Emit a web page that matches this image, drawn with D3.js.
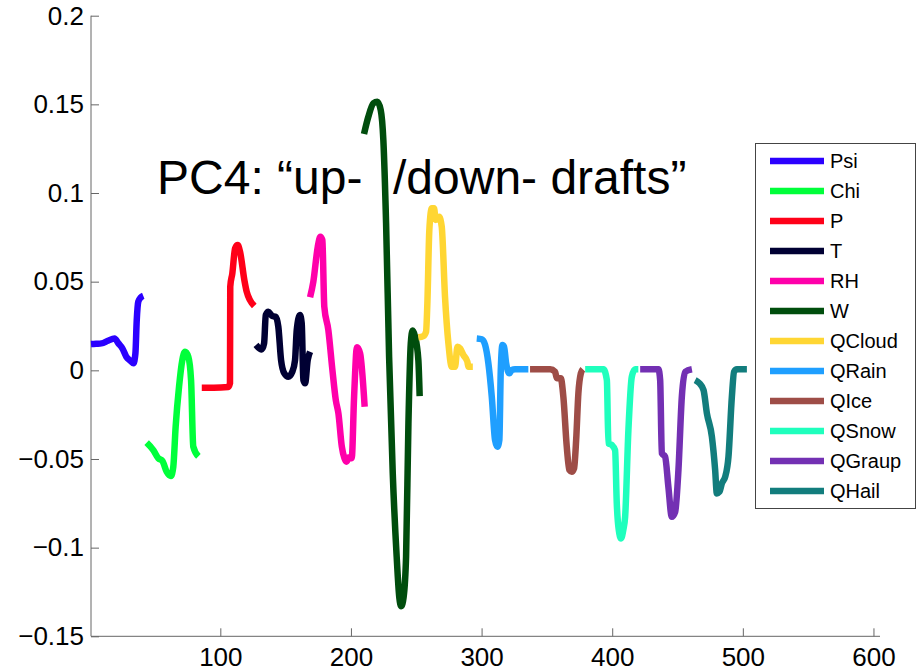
<!DOCTYPE html>
<html><head><meta charset="utf-8">
<script src="https://cdn.jsdelivr.net/npm/d3@7"></script>
<style>html,body{margin:0;padding:0;background:#fff}svg{display:block}</style>
</head><body>
<svg id="c" width="918" height="671"></svg>
<script>
const seriesNames = ["Psi","Chi","P","T","RH","W","QCloud","QRain","QIce","QSnow","QGraup","QHail"];
const seriesColors = ["#2b00ff","#00ff3a","#ff0019","#000033","#ff00aa","#004d0d","#ffd633","#1f9fff","#9e4d47","#1fffbd","#7330b3","#127d7d"];
const xTicks = [100,200,300,400,500,600];
const yTicks = [-0.15,-0.1,-0.05,0,0.05,0.1,0.15,0.2];
const yTickLabels = ["\u22120.15","\u22120.1","\u22120.05","0","0.05","0.1","0.15","0.2"];
const titleLeft = "PC4: \u201cup-";
const titleRight = "/down- drafts\u201d";

const psi = [[1,0.0148],[5,0.015],[9,0.0152],[14,0.0167],[19,0.018],[22,0.0152],[25,0.0124],[28,0.0077],[31,0.0055],[33.5,0.004],[35,0.0096],[36,0.028],[37.2,0.0387],[39,0.041],[41,0.042]];
const chi = [[43.6,-0.0408],[48.7,-0.045],[52.5,-0.0496],[55.6,-0.051],[58.9,-0.0572],[62.2,-0.0596],[64,-0.0544],[65.8,-0.0318],[68.4,-0.0092],[70.9,0.0058],[73,0.0105],[75.5,0.0077],[77.6,-0.0055],[79.3,-0.043],[83.2,-0.0485]];
const p = [[85.8,-0.0098],[95,-0.0098],[106,-0.0094],[107.4,-0.0073],[107.6,0.0472],[109.2,0.0547],[111.3,0.0688],[113.3,0.0707],[115.1,0.0669],[118.4,0.0509],[120.2,0.0443],[122.7,0.0396],[126,0.0363]];
const t = [[127.3,0.0143],[131.7,0.0118],[133.5,0.0152],[134.8,0.0312],[136.8,0.033],[139.8,0.0306],[142.4,0.0302],[144.4,0.0246],[146.5,0.0058],[149,-0.0017],[152.1,-0.0036],[155.1,-0.0008],[157.2,0.0058],[158.5,0.0227],[161,0.0312],[162.3,0.0265],[163.6,-0.0055],[164.9,-0.0073],[166.9,0.0058],[168.7,0.0105]];
const rh = [[168.7,0.0412],[171.2,0.05],[174.6,0.0697],[176.6,0.0754],[178.1,0.0735],[179.6,0.0359],[182.7,0.0227],[185.8,0.0002],[188.4,-0.0168],[190.4,-0.0243],[193,-0.043],[195,-0.0496],[196.6,-0.0515],[198.5,-0.049],[200.6,-0.0496],[202.4,-0.0149],[204.6,0.013],[207,0.0096],[210.5,-0.0205]];
const w = [[210,0.1333],[213.3,0.143],[217.2,0.1506],[220.2,0.1515],[222.8,0.1468],[224.8,0.1299],[226.9,0.0829],[229.2,0.0077],[232,-0.0581],[235,-0.1051],[237,-0.128],[238.5,-0.133],[240.3,-0.128],[242.2,-0.1051],[244,-0.0299],[245.8,0.0152],[247.2,0.0225],[249.1,0.019],[251.6,0.0058],[252.6,-0.0145]];
const qcloud = [[251.6,0.0186],[255.4,0.0193],[257.5,0.0218],[258.5,0.0378],[260,0.0791],[261.9,0.0914],[263.6,0.0914],[264.9,0.0848],[267.5,0.0866],[269.5,0.081],[272,0.0415],[274.6,0.0152],[277.2,0.002],[279.7,0.002],[281.5,0.0133],[283.5,0.0124],[286.1,0.0086],[289.1,0.0049],[289.9,0.002],[293.3,0.002]];
const qrain = [[296.3,0.018],[300.2,0.0175],[302.7,0.0143],[305.2,0.004],[307.8,-0.0149],[310.3,-0.0393],[312.1,-0.0431],[313.6,-0.0393],[314.7,0.0002],[316,0.0143],[317.2,0.0133],[318.8,0.004],[321.3,-0.0017],[323.1,0.0002],[325.6,0.0006],[335.8,0.0006]];
const qice = [[337.1,0.0006],[352.5,0.0006],[356.3,-0.0008],[357.6,-0.0045],[360.6,-0.0045],[362.6,-0.0149],[365.2,-0.043],[367.2,-0.0562],[369,-0.0572],[370.8,-0.0553],[372.4,-0.0393],[374.1,-0.013],[376,-0.0017],[377.5,0.0006]];
const qsnow = [[379.3,0.0006],[393.3,0.0006],[395.9,-0.0055],[397.1,-0.0412],[399.7,-0.0421],[402.2,-0.045],[403.5,-0.075],[405,-0.09],[406.8,-0.0948],[408.5,-0.09],[409.9,-0.0826],[412.4,-0.0337],[415,-0.0036],[417.5,0.0006],[420,0.0006]];
const qgraup = [[421.4,0.0006],[435.4,0.0006],[436.7,-0.0055],[438,-0.0468],[440.5,-0.0487],[443,-0.0657],[445.6,-0.0826],[448.2,-0.0798],[450.7,-0.0562],[453.3,-0.0149],[455.9,-0.0008],[461,0.0006]];
const qhail = [[463.5,-0.0055],[466.8,-0.0073],[469.9,-0.0111],[472.5,-0.0243],[476.3,-0.0374],[478.8,-0.0562],[480.1,-0.0694],[482.1,-0.0685],[484,-0.0637],[486.5,-0.06],[489,-0.0487],[491.6,-0.0149],[493.3,-0.0008],[495.4,0.0006],[503.1,0.0006]];

const seriesData = [psi,chi,p,t,rh,w,qcloud,qrain,qice,qsnow,qgraup,qhail];

const svg = d3.select("#c");
const font = "'Liberation Sans', Arial, Helvetica, sans-serif";
const x = d3.scaleLinear().domain([1,605]).range([91,880]);
const y = d3.scaleLinear().domain([-0.15,0.2]).range([636.3,15.7]);

// axes
const axisColor = "#666";
const gx = svg.append("g").attr("transform",`translate(0,${y(-0.15)})`)
  .call(d3.axisBottom(x).tickValues(xTicks).tickSize(-8).tickPadding(14).tickFormat(d3.format("d")));
gx.select(".domain").attr("d",`M${x(1)},0H${x(605)}`).attr("stroke",axisColor);
gx.selectAll(".tick line").attr("stroke",axisColor);
gx.selectAll(".tick text").attr("font-family",font).attr("font-size",26).attr("fill","#000").attr("dy","0.72em").attr("y",11);

const gy = svg.append("g").attr("transform",`translate(${x(1)},0)`)
  .call(d3.axisLeft(y).tickValues(yTicks).tickSize(-8).tickPadding(8).tickFormat((d,i)=>yTickLabels[i]));
gy.select(".domain").attr("d",`M0,${y(-0.15)}V${y(0.2)}`).attr("stroke",axisColor);
gy.selectAll(".tick line").attr("stroke",axisColor);
gy.selectAll(".tick text").attr("font-family",font).attr("font-size",26).attr("fill","#000").attr("x",-7);

// lines
const line = d3.line().x(d=>x(d[0])).y(d=>y(d[1])).curve(d3.curveMonotoneX);
svg.append("g").selectAll("path").data(seriesData).join("path")
  .attr("d",line).attr("fill","none")
  .attr("stroke",(d,i)=>seriesColors[i]).attr("stroke-width",6.5)
  .attr("stroke-linejoin","round").attr("stroke-linecap","butt");

// title annotation
svg.append("text").attr("x",157).attr("y",194).attr("font-family",font).attr("font-size",48).attr("fill","#000").text(titleLeft);
svg.append("text").attr("x",393).attr("y",194).attr("font-family",font).attr("font-size",48).attr("fill","#000").text(titleRight);

// legend
const lg = svg.append("g");
lg.append("rect").attr("x",755.5).attr("y",143.5).attr("width",160).attr("height",365)
  .attr("fill","#fff").attr("stroke","#444").attr("stroke-width",1);
const items = lg.selectAll("g.item").data(seriesNames).join("g").attr("class","item")
  .attr("transform",(d,i)=>`translate(0,${161+i*30})`);
items.append("line").attr("x1",770).attr("x2",824).attr("y1",0).attr("y2",0)
  .attr("stroke",(d,i)=>seriesColors[i]).attr("stroke-width",6.5);
items.append("text").attr("x",830).attr("y",0).attr("dy","0.36em").attr("font-family",font).attr("font-size",20).attr("fill","#000").text(d=>d);
</script>
</body></html>
